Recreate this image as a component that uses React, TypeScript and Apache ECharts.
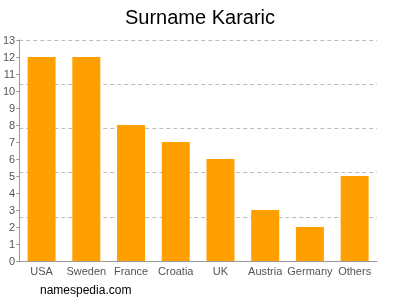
import React, { useEffect, useRef } from "react";
import * as echarts from "echarts";

const categories = ["USA", "Sweden", "France", "Croatia", "UK", "Austria", "Germany", "Others"];
const counts = [12, 12, 8, 7, 6, 3, 2, 5];
const yMax = 13;
const gridStep = 2.6;

export default function App() {
  const ref = useRef<HTMLDivElement>(null);
  useEffect(() => {
    const chart = echarts.init(ref.current!, null, { renderer: "svg" });
    chart.setOption({
      animation: false,
      title: {
        text: "Surname Kararic",
        left: "center",
        top: 2,
        textStyle: { fontFamily: "Liberation Sans", fontSize: 20, fontWeight: "normal", color: "#000" },
      },
      graphic: [
        {
          type: "text",
          left: 40,
          top: 284,
          style: { text: "namespedia.com", font: "12px Liberation Sans", fill: "#000" },
        },
      ],
      grid: { left: 18, right: 23, top: 40, bottom: 39 },
      xAxis: {
        type: "category",
        data: categories,
        axisLine: { lineStyle: { color: "#999" } },
        axisTick: { alignWithLabel: true, length: 4, lineStyle: { color: "#999" } },
        axisLabel: { color: "#555", fontSize: 11, fontFamily: "Liberation Sans", margin: 4, interval: 0 },
      },
      yAxis: [
        {
          type: "value",
          min: 0,
          max: yMax,
          interval: 1,
          axisLine: { show: true, lineStyle: { color: "#999" } },
          axisTick: { show: true, length: 3, lineStyle: { color: "#999" } },
          axisLabel: { color: "#555", fontSize: 11, fontFamily: "Liberation Sans", margin: 4 },
          splitLine: { show: false },
        },
        {
          type: "value",
          min: 0,
          max: yMax,
          interval: gridStep,
          position: "left",
          axisLine: { show: false },
          axisTick: { show: false },
          axisLabel: { show: false },
          splitLine: { show: true, lineStyle: { color: "#bbb", type: [4, 3] } },
        },
      ],
      series: [
        {
          type: "bar",
          data: counts,
          yAxisIndex: 0,
          barWidth: 28,
          itemStyle: { color: "#ffa000" },
        },
      ],
    });
    return () => chart.dispose();
  }, []);
  return <div ref={ref} style={{ position: "fixed", left: 0, top: 0, width: 400, height: 300 }} />;
}
